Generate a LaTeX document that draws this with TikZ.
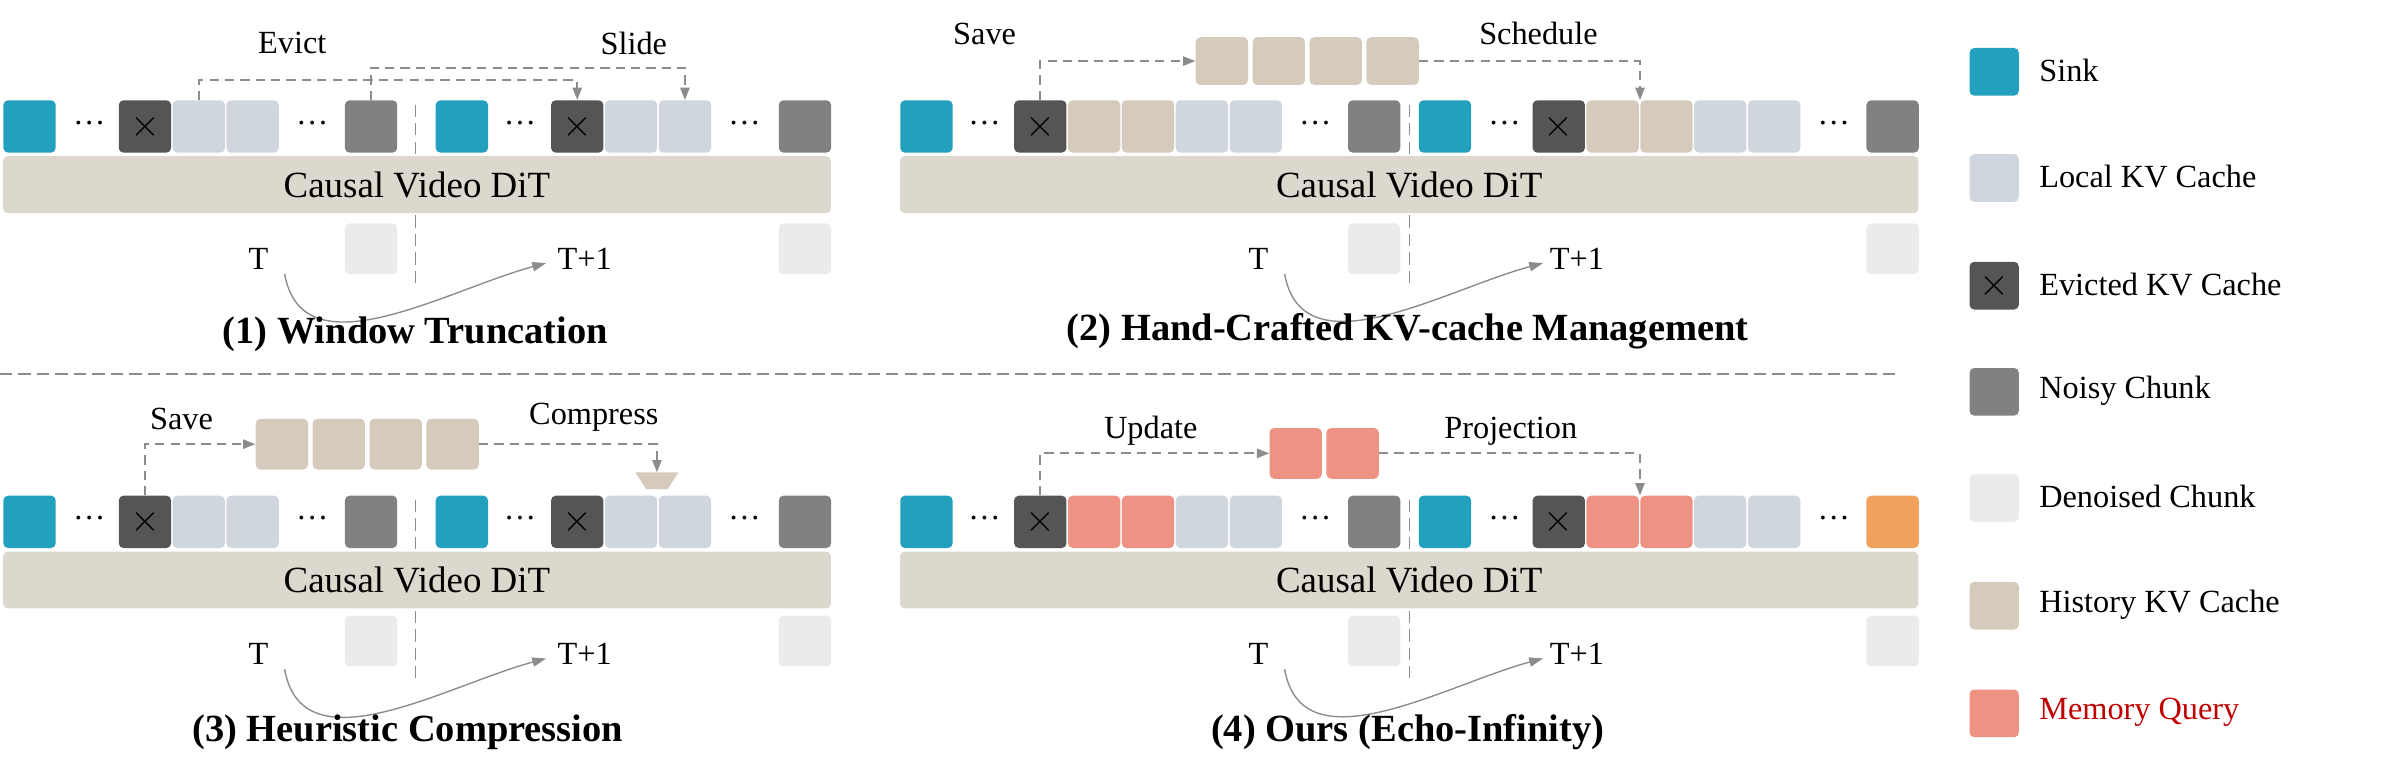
\documentclass[tikz,border=0pt]{standalone}
\usepackage{fontspec}
\setmainfont{Liberation Serif}
\usetikzlibrary{arrows.meta}

\definecolor{sinkc}{HTML}{22A0BE}
\definecolor{localc}{HTML}{CFD6DD}
\definecolor{evictc}{HTML}{555555}
\definecolor{noisyc}{HTML}{818181}
\definecolor{denoisc}{HTML}{EBEBEB}
\definecolor{histc}{HTML}{D6CABD}
\definecolor{memc}{HTML}{EE9283}
\definecolor{orangec}{HTML}{F0A15C}
\definecolor{ditc}{HTML}{DDD8CE}
\definecolor{linec}{HTML}{8C8C8C}
\definecolor{redtext}{HTML}{C00000}

\tikzset{
  cellbox/.style={minimum width=34pt, minimum height=34pt, rounded corners=3pt, inner sep=0pt, anchor=north west},
  legbox/.style={minimum width=32pt, minimum height=31pt, rounded corners=3pt, inner sep=0pt, anchor=north west},
  dit/.style={fill=ditc, rounded corners=3pt, minimum width=538pt, minimum height=37pt, inner sep=0pt, font=\fontsize{24}{24}\selectfont},
  wide/.style={minimum width=662pt},
  flow/.style={linec, dashed, dash pattern=on 6pt off 4pt, line width=1.2pt, -{Triangle[length=8pt,width=6pt]}},
  divide/.style={linec, dashed, dash pattern=on 8pt off 4pt, line width=0.9pt},
  lbl/.style={font=\fontsize{21}{21}\selectfont},
  ttl/.style={font=\fontsize{25}{25}\selectfont\bfseries},
  legtext/.style={font=\fontsize{21}{21}\selectfont, anchor=west},
  turn/.style={linec, line width=0.9pt, -{Triangle[length=9pt,width=6pt]}}
}
\newcommand{\xmark}{\fontsize{26}{26}\selectfont$\times$}

\begin{document}
\begin{tikzpicture}[x=1pt,y=-1pt]
    \useasboundingbox (0,0) rectangle (1560,508);
    % dividers between time steps
    \draw[divide] (270,68) -- (270,187);
    \draw[divide] (916,68) -- (916,187);
    \draw[divide] (270,325) -- (270,444);
    \draw[divide] (916,325) -- (916,444);
    \draw[divide] (0,243) -- (1235,243);
    % (1) window truncation
    \foreach \x/\c/\n in {2/sinkc/s1, 77/evictc/x1, 112/localc/a1, 147/localc/a2, 224/noisyc/n1, 283/sinkc/s2, 358/evictc/x2, 393/localc/a3, 428/localc/a4, 506/noisyc/n2} {
        \node[cellbox, fill=\c] (p1\n) at (\x,65) {};
    }
    \node at (p1x1) {\xmark};
    \node at (p1x2) {\xmark};
    \foreach \x in {58,203,338,484} {
        \node[lbl] at (\x,80) {\dots};
    }
    \node[dit] (p1dit) at (271,120) {Causal Video DiT};
    \node[cellbox, fill=denoisc, minimum height=33pt] (p1d1) at (224,145) {};
    \node[cellbox, fill=denoisc, minimum height=33pt] (p1d2) at (506,145) {};
    \node[lbl] (p1t) at (168,168) {T};
    \node[lbl] (p1t1) at (380,168) {T+1};
    \draw[turn] (185,178) to[out=-80,in=195] (355,171);
    \draw[flow] (p1a1.north) -- ++(0,-13) -| (p1x2.north);
    \draw[flow] (p1n1.north) -- ++(0,-21) -| (p1a4.north);
    \node[lbl] at (190,28) {Evict};
    \node[lbl] at (412,28) {Slide};
    \node[ttl] at (270,217) {(1) Window Truncation};
    % (2) hand-crafted management
    \foreach \x/\c/\n in {585/sinkc/s1, 659/evictc/x1, 694/histc/h1, 729/histc/h2, 764/localc/a1, 799/localc/a2, 876/noisyc/n1, 922/sinkc/s2, 996/evictc/x2, 1031/histc/h3, 1066/histc/h4, 1101/localc/a3, 1136/localc/a4, 1213/noisyc/n2} {
        \node[cellbox, fill=\c] (p2\n) at (\x,65) {};
    }
    \node at (p2x1) {\xmark};
    \node at (p2x2) {\xmark};
    \foreach \x in {640,855,978,1192} {
        \node[lbl] at (\x,80) {\dots};
    }
    \foreach \x/\n in {777/m1, 814/m2, 851/m3, 888/m4} {
        \node[cellbox, fill=histc, minimum height=31pt] (p2\n) at (\x,24) {};
    }
    \node[dit, wide] (p2dit) at (916,120) {Causal Video DiT};
    \node[cellbox, fill=denoisc, minimum height=33pt] (p2d1) at (876,145) {};
    \node[cellbox, fill=denoisc, minimum height=33pt] (p2d2) at (1213,145) {};
    \node[lbl] (p2t) at (818,168) {T};
    \node[lbl] (p2t1) at (1025,168) {T+1};
    \draw[turn] (835,178) to[out=-80,in=195] (1003,171);
    \draw[flow] (p2x1.north) |- (p2m1.west);
    \draw[flow] (p2m4.east) -| (p2h4.north west);
    \node[lbl] at (640,22) {Save};
    \node[lbl] at (1000,22) {Schedule};
    \node[ttl] at (915,215) {(2) Hand-Crafted KV-cache Management};
    % (3) heuristic compression
    \foreach \x/\c/\n in {2/sinkc/s1, 77/evictc/x1, 112/localc/a1, 147/localc/a2, 224/noisyc/n1, 283/sinkc/s2, 358/evictc/x2, 393/localc/a3, 428/localc/a4, 506/noisyc/n2} {
        \node[cellbox, fill=\c] (p3\n) at (\x,322) {};
    }
    \node at (p3x1) {\xmark};
    \node at (p3x2) {\xmark};
    \foreach \x in {58,203,338,484} {
        \node[lbl] at (\x,337) {\dots};
    }
    \foreach \x/\n in {166/m1, 203/m2, 240/m3, 277/m4} {
        \node[cellbox, fill=histc, minimum height=33pt] (p3\n) at (\x,272) {};
    }
    \fill[histc] (413,307) -- (441,307) -- (434,318) -- (420,318) -- cycle;
    \coordinate (p3cmp) at (427,307);
    \node[dit] (p3dit) at (271,377) {Causal Video DiT};
    \node[cellbox, fill=denoisc, minimum height=33pt] (p3d1) at (224,400) {};
    \node[cellbox, fill=denoisc, minimum height=33pt] (p3d2) at (506,400) {};
    \node[lbl] (p3t) at (168,425) {T};
    \node[lbl] (p3t1) at (380,425) {T+1};
    \draw[turn] (185,435) to[out=-80,in=195] (355,428);
    \draw[flow] (p3x1.north) |- (p3m1.west);
    \draw[flow] (p3m4.east) -| (p3cmp);
    \node[lbl] at (118,272) {Save};
    \node[lbl] at (386,271) {Compress};
    \node[ttl] at (265,476) {(3) Heuristic Compression};
    % (4) ours
    \foreach \x/\c/\n in {585/sinkc/s1, 659/evictc/x1, 694/memc/q1, 729/memc/q2, 764/localc/a1, 799/localc/a2, 876/noisyc/n1, 922/sinkc/s2, 996/evictc/x2, 1031/memc/q3, 1066/memc/q4, 1101/localc/a3, 1136/localc/a4, 1213/orangec/n2} {
        \node[cellbox, fill=\c] (p4\n) at (\x,322) {};
    }
    \node at (p4x1) {\xmark};
    \node at (p4x2) {\xmark};
    \foreach \x in {640,855,978,1192} {
        \node[lbl] at (\x,337) {\dots};
    }
    \foreach \x/\n in {825/m1, 862/m2} {
        \node[cellbox, fill=memc, minimum height=33pt] (p4\n) at (\x,278) {};
    }
    \node[dit, wide] (p4dit) at (916,377) {Causal Video DiT};
    \node[cellbox, fill=denoisc, minimum height=33pt] (p4d1) at (876,400) {};
    \node[cellbox, fill=denoisc, minimum height=33pt] (p4d2) at (1213,400) {};
    \node[lbl] (p4t) at (818,425) {T};
    \node[lbl] (p4t1) at (1025,425) {T+1};
    \draw[turn] (835,435) to[out=-80,in=195] (1003,428);
    \draw[flow] (p4x1.north) |- (p4m1.west);
    \draw[flow] (p4m2.east) -| (p4q4.north west);
    \node[lbl] at (748,280) {Update};
    \node[lbl] at (982,280) {Projection};
    \node[ttl] at (915,476) {(4) Ours (Echo-Infinity)};
    % legend
    \foreach \y/\c/\t in {31/sinkc/Sink, 100/localc/Local KV Cache, 170/evictc/Evicted KV Cache, 239/noisyc/Noisy Chunk, 308/denoisc/Denoised Chunk, 378/histc/History KV Cache} {
        \node[legbox, fill=\c] (leg\c) at (1280,\y) {};
        \node[legtext] at (1322,\y+15) {\t};
    }
    \node at (legevictc) {\xmark};
    \node[legbox, fill=memc] (legmemc) at (1280,448) {};
    \node[legtext, text=redtext] at (1322,463) {Memory Query};
\end{tikzpicture}
\end{document}
